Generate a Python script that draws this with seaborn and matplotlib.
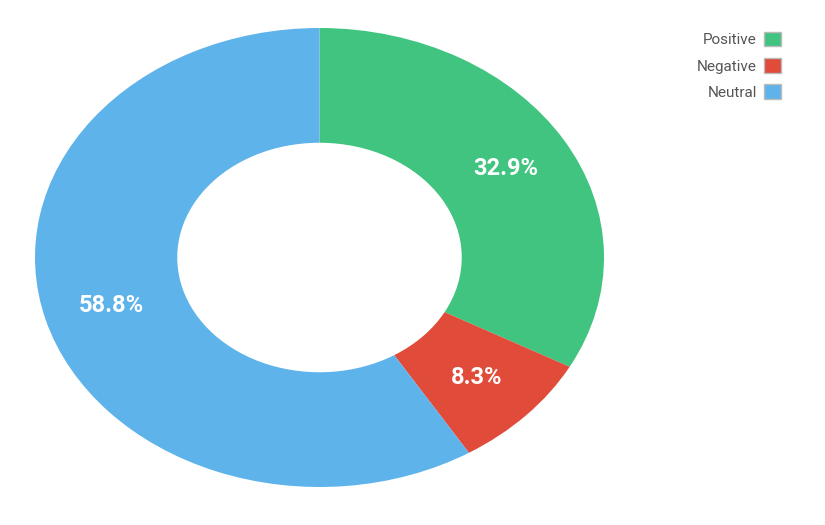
import matplotlib
matplotlib.use("Agg")
import matplotlib.pyplot as plt
import seaborn as sns
from matplotlib.patches import Patch

sns.set_theme(style="white")
plt.rcParams['font.family'] = ['Roboto', 'DejaVu Sans']

labels = ["Positive", "Negative", "Neutral"]
values = [32.9, 8.3, 58.8]
colors = ["#40c47f", "#e04b3a", "#5eb3ea"]

fig = plt.figure(figsize=(8.25, 5.25), dpi=100)
ax = fig.add_axes([35/825, 38/525, 569/825, 459/525])
wedges, texts, autotexts = ax.pie(values, colors=colors, startangle=90, counterclock=False,
       autopct="%.1f%%", pctdistance=0.76, radius=1,
       wedgeprops=dict(width=0.5, linewidth=0),
       textprops=dict(color="white", fontsize=17, fontweight="bold"))
ax.set_aspect('auto')
ax.set_xlim(-1, 1)
ax.set_ylim(-1, 1)
ax.axis('off')

handles = [Patch(facecolor=c, edgecolor="#bbbbbb", label=l) for c, l in zip(colors, labels)]
fig.legend(handles=handles, loc="upper right", bbox_to_anchor=(795/825, 1-18/525),
           markerfirst=False, frameon=False, fontsize=11, labelcolor="#555555",
           handlelength=1.1, handleheight=1.1, labelspacing=0.7, handletextpad=0.5)
fig.savefig("out.png", dpi=100)
